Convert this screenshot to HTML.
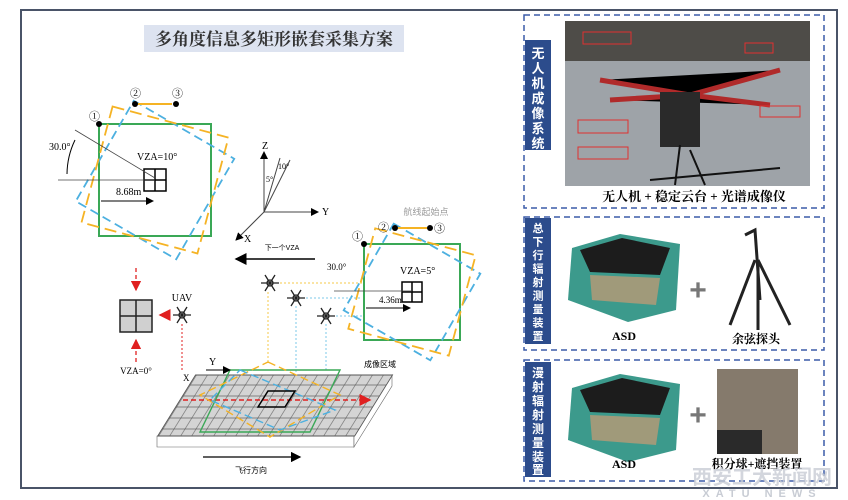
<!DOCTYPE html>
<html><head><meta charset="utf-8"><style>
body{margin:0;background:#fff;}
svg{display:block;font-family:"Liberation Serif","Noto Serif CJK SC",serif;}
</style></head><body>
<svg width="848" height="500" viewBox="0 0 848 500" xmlns="http://www.w3.org/2000/svg">
<defs>
<marker id="ab" markerWidth="8" markerHeight="8" refX="7" refY="4" orient="auto"><path d="M0,0 L8,4 L0,8 z" fill="#000"/></marker>
<marker id="ar" markerWidth="8" markerHeight="8" refX="7" refY="4" orient="auto"><path d="M0,0 L8,4 L0,8 z" fill="#e02020"/></marker>
<pattern id="gp" width="11" height="11" patternUnits="userSpaceOnUse"><rect width="11" height="11" fill="#d4d4d4" stroke="#555" stroke-width="0.6"/></pattern>
</defs>
<rect x="21" y="10" width="816" height="478" fill="#fff" stroke="#4a5468" stroke-width="2"/>
<rect x="144" y="25" width="260" height="27" fill="#dde3f0"/>
<text x="274" y="45" font-size="17" text-anchor="middle" font-family="Liberation Serif,Noto Serif CJK SC,serif" font-weight="bold" fill="#333">多角度信息多矩形嵌套采集方案</text>

<g transform="translate(155,180)">
<rect x="-56" y="-56" width="112" height="112" fill="none" stroke="#3aa856" stroke-width="2"/>
<rect x="-58" y="-58" width="116" height="116" fill="none" stroke="#4cb0e0" stroke-width="1.8" stroke-dasharray="9,5" transform="rotate(30)"/>
<rect x="-60" y="-60" width="120" height="120" fill="none" stroke="#f5b324" stroke-width="1.8" stroke-dasharray="12,6" transform="rotate(15)"/>
<rect x="-11" y="-11" width="22" height="22" fill="#fff" stroke="#000" stroke-width="1.5"/>
<line x1="0" y1="-11" x2="0" y2="11" stroke="#000" stroke-width="1.5"/><line x1="-11" y1="0" x2="11" y2="0" stroke="#000" stroke-width="1.5"/>
</g>
<line x1="58" y1="180" x2="155" y2="180" stroke="#444" stroke-width="0.8"/>
<line x1="75" y1="130" x2="155" y2="178" stroke="#444" stroke-width="0.8"/>
<path d="M75,140 A80,80 0 0 0 67,174" fill="none" stroke="#000" stroke-width="1"/>
<text x="49" y="150" font-size="10">30.0°</text>
<text x="137" y="160" font-size="10">VZA=10°</text>
<line x1="101" y1="201" x2="153" y2="201" stroke="#000" stroke-width="1" marker-end="url(#ab)"/>
<text x="116" y="195" font-size="10">8.68m</text>
<circle cx="99" cy="124" r="3" fill="#000"/><circle cx="135" cy="104" r="3" fill="#000"/><circle cx="176" cy="104" r="3" fill="#000"/>
<text x="89" y="120" font-size="11">①</text><text x="130" y="97" font-size="11">②</text><text x="172" y="97" font-size="11">③</text>
<line x1="138" y1="104" x2="172" y2="104" stroke="#f5b324" stroke-width="2"/>

<g stroke="#444" stroke-width="1" fill="none">
<line x1="264" y1="212" x2="264" y2="152" marker-end="url(#ab)"/>
<line x1="264" y1="212" x2="318" y2="212" marker-end="url(#ab)"/>
<line x1="264" y1="212" x2="236" y2="240" marker-end="url(#ab)"/>
<line x1="264" y1="212" x2="290" y2="160"/><line x1="264" y1="212" x2="280" y2="158"/>
</g>
<text x="262" y="149" font-size="10">Z</text><text x="322" y="215" font-size="10">Y</text><text x="244" y="242" font-size="10">X</text>
<text x="278" y="169" font-size="8">10°</text><text x="266" y="182" font-size="8">5°</text>

<text x="282" y="250" font-size="7" text-anchor="middle" font-family="Liberation Sans,Noto Sans CJK SC,sans-serif">下一个VZA</text>
<line x1="315" y1="259" x2="236" y2="259" stroke="#000" stroke-width="1.5" marker-end="url(#ab)"/>

<text x="426" y="215" font-size="9" fill="#999" text-anchor="middle" font-family="Liberation Sans,Noto Sans CJK SC,sans-serif">航线起始点</text>
<g transform="translate(412,292)">
<rect x="-48" y="-48" width="96" height="96" fill="none" stroke="#3aa856" stroke-width="2"/>
<rect x="-50" y="-50" width="100" height="100" fill="none" stroke="#4cb0e0" stroke-width="1.8" stroke-dasharray="9,5" transform="rotate(30)"/>
<rect x="-52" y="-52" width="104" height="104" fill="none" stroke="#f5b324" stroke-width="1.8" stroke-dasharray="12,6" transform="rotate(15)"/>
<rect x="-10" y="-10" width="20" height="20" fill="#fff" stroke="#000" stroke-width="1.5"/>
<line x1="0" y1="-10" x2="0" y2="10" stroke="#000" stroke-width="1.5"/><line x1="-10" y1="0" x2="10" y2="0" stroke="#000" stroke-width="1.5"/>
</g>
<circle cx="364" cy="244" r="3" fill="#000"/><circle cx="395" cy="228" r="3" fill="#000"/><circle cx="430" cy="228" r="3" fill="#000"/>
<text x="352" y="240" font-size="11">①</text><text x="378" y="231" font-size="11">②</text><text x="434" y="232" font-size="11">③</text>
<line x1="398" y1="228" x2="427" y2="228" stroke="#f5b324" stroke-width="2"/>
<text x="327" y="270" font-size="9">30.0°</text>
<text x="400" y="274" font-size="10">VZA=5°</text>
<text x="379" y="303" font-size="9">4.36m</text>
<line x1="334" y1="291" x2="412" y2="291" stroke="#444" stroke-width="0.7"/>
<line x1="366" y1="308" x2="410" y2="308" stroke="#000" stroke-width="1" marker-end="url(#ab)"/>

<g fill="none" stroke="#222" stroke-width="1.3">
<g transform="translate(270,283)"><circle r="3"/><path d="M-9,0H9M-5,-8L5,8M5,-8L-5,8"/></g>
<g transform="translate(296,298)"><circle r="3"/><path d="M-9,0H9M-5,-8L5,8M5,-8L-5,8"/></g>
<g transform="translate(326,316)"><circle r="3"/><path d="M-9,0H9M-5,-8L5,8M5,-8L-5,8"/></g>
<g transform="translate(182,315)"><circle r="3"/><path d="M-9,0H9M-5,-8L5,8M5,-8L-5,8"/></g>
</g>
<g stroke-width="1" stroke-dasharray="2,2" fill="none">
<path d="M280,283H362M268,292V362" stroke="#f5c84a"/>
<path d="M306,298H362M296,306V372" stroke="#7cc8e8"/>
<path d="M336,316H362M326,324V372" stroke="#7cc8e8"/>
<path d="M182,324V372" stroke="#e02020"/>
</g>
<text x="182" y="301" font-size="10" text-anchor="middle">UAV</text>
<line x1="170" y1="315" x2="160" y2="315" stroke="#e02020" stroke-width="1.5" marker-end="url(#ar)"/>
<rect x="120" y="300" width="32" height="32" fill="#d0d0d0" stroke="#222" stroke-width="1.5"/>
<path d="M136,300V332M120,316H152" stroke="#222" stroke-width="1.5"/>
<line x1="136" y1="268" x2="136" y2="290" stroke="#e02020" stroke-width="1.3" stroke-dasharray="4,3" marker-end="url(#ar)"/>
<line x1="136" y1="362" x2="136" y2="340" stroke="#e02020" stroke-width="1.3" stroke-dasharray="4,3" marker-end="url(#ar)"/>
<text x="136" y="374" font-size="9" text-anchor="middle">VZA=0°</text>

<polygon points="157,436 354,436 354,447 157,447" fill="#fff" stroke="#666" stroke-width="0.6"/>
<polygon points="354,436 392,375 392,386 354,447" fill="#fff" stroke="#666" stroke-width="0.6"/>
<g transform="matrix(1,0,-0.62,1,0,0)">
<rect x="428" y="375" width="197" height="61" fill="url(#gp)" stroke="#555"/>
</g>
<path d="M183,400H370" stroke="#e02020" stroke-width="1.5" stroke-dasharray="5,3" marker-end="url(#ar)"/>
<polygon points="230,370 340,370 310,432 200,432" fill="none" stroke="#3aa856" stroke-width="1.4"/>
<polygon points="268,362 340,395 270,437 200,395" fill="none" stroke="#f5b324" stroke-width="1.4" stroke-dasharray="8,4"/>
<polygon points="240,370 335,410 280,430 210,400" fill="none" stroke="#4cb0e0" stroke-width="1.4" stroke-dasharray="8,4"/>
<polygon points="268,391 295,391 285,407 258,407" fill="none" stroke="#000" stroke-width="1.5"/>
<text x="209" y="365" font-size="10">Y</text>
<path d="M206,370H230" stroke="#000" marker-end="url(#ab)"/>
<text x="183" y="381" font-size="9">X</text>
<text x="364" y="367" font-size="8" font-family="Liberation Sans,Noto Sans CJK SC,sans-serif">成像区域</text>
<line x1="203" y1="457" x2="300" y2="457" stroke="#000" stroke-width="1.3" marker-end="url(#ab)"/>
<text x="251" y="473" font-size="8" text-anchor="middle" font-family="Liberation Sans,Noto Sans CJK SC,sans-serif">飞行方向</text>

<g fill="none" stroke="#3b5ca8" stroke-width="1.5" stroke-dasharray="6,4">
<rect x="524" y="15" width="300" height="193"/>
<rect x="524" y="217" width="300" height="133"/>
<rect x="524" y="360" width="300" height="121"/>
</g>
<rect x="525" y="40" width="26" height="110" fill="#2c4c8c"/>
<rect x="525" y="218" width="26" height="126" fill="#2c4c8c"/>
<rect x="525" y="362" width="26" height="115" fill="#2c4c8c"/>
<g fill="#fff" font-weight="bold" text-anchor="middle" font-family="Liberation Sans,Noto Sans CJK SC,sans-serif">
<text font-size="13"><tspan x="538" y="58">无</tspan><tspan x="538" y="73">人</tspan><tspan x="538" y="88">机</tspan><tspan x="538" y="103">成</tspan><tspan x="538" y="118">像</tspan><tspan x="538" y="133">系</tspan><tspan x="538" y="148">统</tspan></text>
<text font-size="11"><tspan x="538" y="232">总</tspan><tspan x="538" y="245.5">下</tspan><tspan x="538" y="259">行</tspan><tspan x="538" y="272.5">辐</tspan><tspan x="538" y="286">射</tspan><tspan x="538" y="299.5">测</tspan><tspan x="538" y="313">量</tspan><tspan x="538" y="326.5">装</tspan><tspan x="538" y="340">置</tspan></text>
<text font-size="12"><tspan x="538" y="377">漫</tspan><tspan x="538" y="391">射</tspan><tspan x="538" y="405">辐</tspan><tspan x="538" y="419">射</tspan><tspan x="538" y="433">测</tspan><tspan x="538" y="447">量</tspan><tspan x="538" y="461">装</tspan><tspan x="538" y="474">置</tspan></text>
</g>
<rect x="565" y="21" width="245" height="165" fill="#8a8c90"/>
<rect x="565" y="21" width="245" height="40" fill="#4e4c48"/>
<rect x="565" y="61" width="245" height="125" fill="#9ea3a8"/>
<path d="M600,80 L690,95 L780,70 M610,100 L690,95 L770,105" stroke="#b02a2a" stroke-width="5"/>
<rect x="660" y="92" width="40" height="55" fill="#2a2a2a"/>
<path d="M680,145 L675,185 M690,150 L705,185 M650,180 L780,168" stroke="#111" stroke-width="2"/>
<g fill="none" stroke="#e03030" stroke-width="1"><rect x="583" y="32" width="48" height="12"/><rect x="745" y="43" width="28" height="10"/><rect x="578" y="120" width="50" height="13"/><rect x="578" y="147" width="50" height="12"/><rect x="760" y="106" width="40" height="11"/></g>
<text x="694" y="201" font-size="13" font-weight="bold" text-anchor="middle">无人机 + 稳定云台 +   光谱成像仪</text>
<g>
<path d="M572,248 L620,234 L680,244 L676,310 L628,322 L568,300 Z" fill="#3c9a8c"/>
<path d="M580,250 L622,238 L670,248 L660,275 L590,272 Z" fill="#1c1c1c"/>
<path d="M590,275 L660,278 L656,305 L592,300 Z" fill="#a09a7a"/>
<text x="624" y="340" font-size="12" font-weight="bold" text-anchor="middle">ASD</text>
</g>
<text x="698" y="300" font-size="30" font-weight="bold" fill="#777" text-anchor="middle" font-family="Liberation Sans,sans-serif">+</text>
<path d="M745,235 L755,230 L760,300 M755,260 L730,325 M758,260 L790,325 M758,260 L758,330" stroke="#222" stroke-width="3" fill="none"/>
<text x="756" y="343" font-size="12" font-weight="bold" text-anchor="middle">余弦探头</text>
<g>
<path d="M572,388 L620,374 L680,384 L676,450 L628,462 L568,440 Z" fill="#3c9a8c"/>
<path d="M580,390 L622,378 L670,388 L660,415 L590,412 Z" fill="#1c1c1c"/>
<path d="M590,415 L660,418 L656,445 L592,440 Z" fill="#a09a7a"/>
<text x="624" y="468" font-size="12" font-weight="bold" text-anchor="middle">ASD</text>
</g>
<text x="698" y="425" font-size="30" font-weight="bold" fill="#777" text-anchor="middle" font-family="Liberation Sans,sans-serif">+</text>
<rect x="717" y="369" width="81" height="85" fill="#857a6c"/>
<rect x="717" y="430" width="45" height="24" fill="#2a2a2a"/>
<text x="757" y="468" font-size="12" font-weight="bold" text-anchor="middle">积分球+遮挡装置</text>
<text x="762" y="484" font-size="20" font-weight="bold" fill="#c8ccd4" fill-opacity="0.8" text-anchor="middle" font-family="Liberation Sans,Noto Sans CJK SC,sans-serif">西安工大新闻网</text>
<text x="762" y="497" font-size="11" font-weight="bold" fill="#c8ccd4" text-anchor="middle" letter-spacing="6" font-family="Liberation Sans,sans-serif">XATU NEWS</text>
</svg>
</body></html>
